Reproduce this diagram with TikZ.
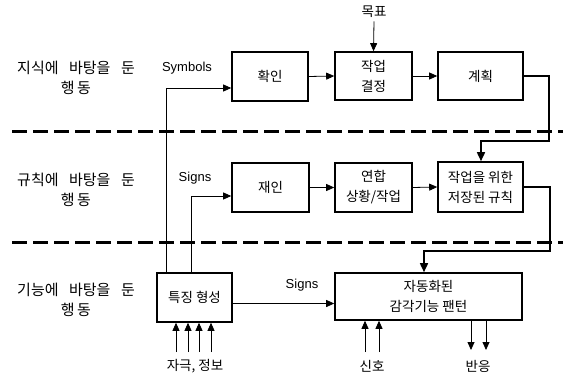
\documentclass[tikz,border=0pt]{standalone}
\usepackage{fontspec}
\setmainfont{Liberation Sans}
\newfontfamily\kr{Noto Sans CJK KR}
\usetikzlibrary{arrows.meta}
\newcommand{\wsp}{\hspace{0.7em}}
\begin{document}
\begin{tikzpicture}[x=1pt,y=-1pt,
  box/.style={draw,line width=1.6pt,inner sep=0pt,align=center,font=\kr\fontsize{13.5}{20}\selectfont},
  lvl/.style={align=center,font=\kr\fontsize{15}{20}\selectfont},
  lbl/.style={font=\fontsize{13}{14}\selectfont},
  ktxt/.style={font=\kr\fontsize{13.5}{14}\selectfont},
  arr/.style={line width=0.8pt,-{Triangle[length=8pt,width=7pt]}},
  tarr/.style={line width=1.6pt,-{Triangle[length=9pt,width=8pt]}},
  sep/.style={line width=3pt,dash pattern=on 15pt off 6pt}]
\useasboundingbox (0,0) rectangle (570,377);
% separators
\coordinate (s1a) at (12,132); \coordinate (s1b) at (563,132);
\coordinate (s2a) at (12,242); \coordinate (s2b) at (563,242);
\draw[sep] (s1a) -- (s1b);
\draw[sep] (s2a) -- (s2b);
% level labels
\node[lvl] (L1) at (76,78) {지식에\wsp 바탕을\wsp 둔\\행\,동};
\node[lvl] (L2) at (76,189.5) {규칙에\wsp 바탕을\wsp 둔\\행\,동};
\node[lvl] (L3) at (76,300) {기능에\wsp 바탕을\wsp 둔\\행\,동};
% boxes
\node[box,minimum width=76pt,minimum height=49pt] (hwak) at (270,76.5) {확인};
\node[box,minimum width=77pt,minimum height=48pt] (jak) at (373.5,76) {작업\\결정};
\node[box,minimum width=85pt,minimum height=48pt] (gye) at (480.5,76) {계획};
\node[box,minimum width=77pt,minimum height=49pt] (jae) at (270.5,187.5) {재인};
\node[box,minimum width=77pt,minimum height=49pt] (yeon) at (373.5,187.5) {연합\\상황/작업};
\node[box,minimum width=85pt,minimum height=50pt] (rule) at (480.5,187) {작업을 위한\\저장된 규칙};
\node[box,minimum width=75pt,minimum height=49pt] (feat) at (194.5,297.5) {특징 형성};
\node[box,minimum width=187pt,minimum height=47pt] (auto) at (428.5,296.5) {자동화된\\감각기능 팬턴};
% texts
\node[ktxt] (goal) at (374,12) {목표};
\node[lbl] (sym) at (187,68) {Symbols};
\node[lbl] (sg1) at (195,178) {Signs};
\node[lbl] (sg2) at (302,285) {Signs};
\node[ktxt] (stim) at (195,366) {자극, 정보};
\node[ktxt] (sig) at (372,366) {신호};
\node[ktxt] (resp) at (478,366) {반응};
% top row
\draw[arr] (goal.south) -- (jak.north);
\draw[arr] (hwak.east) -- (jak.west);
\draw[arr] (jak.east) -- (gye.west);
\coordinate (c1) at (549,141);
\coordinate (c2) at (481,141);
\draw[tarr] (gye.east) -| (c1) -- (c2) -- (c2 |- rule.north);
% middle row
\draw[arr] (jae.east) -- (yeon.west);
\draw[arr] (yeon.east) -- (rule.west);
\coordinate (c3) at (550,251);
\coordinate (c4) at (424,251);
\draw[tarr] (rule.east) -| (c3) -- (c4) -- (c4 |- auto.north);
% from feature formation
\coordinate (f1) at (166,322);
\coordinate (f2) at (191,322);
\draw[arr] (f1 |- feat.north) |- ([yshift=-11.5pt]hwak.west);
\draw[arr] (f2 |- feat.north) |- ([yshift=-8.5pt]jae.west);
\draw[arr] ([yshift=-6pt]feat.east) -- ([yshift=-6pt]feat.east -| auto.west);
% inputs
\foreach \x [count=\i] in {176,188,199,211} {
  \coordinate (in\i) at (\x,352);
  \draw[arr] (in\i) -- (in\i |- feat.south);
}
\foreach \x [count=\i] in {365,379} {
  \coordinate (sg\i) at (\x,352);
  \draw[arr] (sg\i) -- (sg\i |- auto.south);
}
\foreach \x [count=\i] in {471,486} {
  \coordinate (rs\i) at (\x,350);
  \draw[arr] (rs\i |- auto.south) -- (rs\i);
}
\end{tikzpicture}
\end{document}
